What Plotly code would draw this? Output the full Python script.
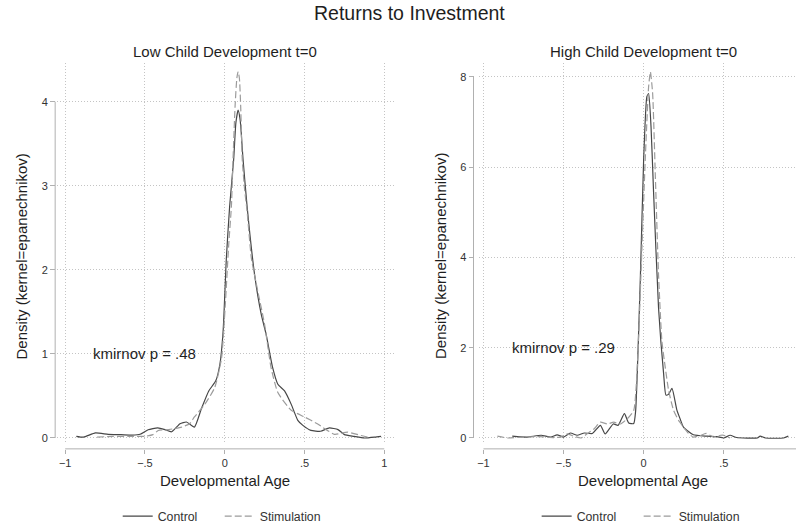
import plotly.graph_objects as go

# ---------------- data ----------------
series_names = ["Control", "Stimulation"]
panel_titles = ["Low Child Development t=0", "High Child Development t=0"]
main_title = "Returns to Investment"
x_title = "Developmental Age"
y_title = "Density (kernel=epanechnikov)"
ks_labels = ["kmirnov p = .48", "kmirnov p = .29"]
ks_x = [-0.5, -0.5]
ks_y = [1, 2]

# Low child development panel
ctrl_low_x = [-0.93, -0.885, -0.81, -0.73, -0.65, -0.58, -0.53, -0.48, -0.42, -0.375,
              -0.333, -0.28, -0.24, -0.19, -0.146, -0.10, -0.056, -0.03, -0.01, 0.01,
              0.031, 0.056, 0.07, 0.084, 0.097, 0.115, 0.14, 0.1875, 0.229, 0.26,
              0.30, 0.333, 0.375, 0.417, 0.458, 0.49, 0.54, 0.60, 0.656, 0.71,
              0.75, 0.81, 0.875, 0.94, 0.98]
ctrl_low_y = [0.02, 0.01, 0.06, 0.044, 0.04, 0.035, 0.044, 0.098, 0.12, 0.10,
              0.074, 0.17, 0.19, 0.13, 0.35, 0.56, 0.68, 0.88, 1.27, 2.13,
              2.76, 3.31, 3.75, 3.90, 3.78, 3.31, 2.76, 1.94, 1.47, 1.23,
              0.84, 0.64, 0.56, 0.40, 0.21, 0.15, 0.09, 0.08, 0.12, 0.10,
              0.04, 0.02, 0.0, 0.01, 0.02]
stim_low_x = [-0.80, -0.70, -0.60, -0.50, -0.45, -0.416, -0.35, -0.27, -0.22, -0.19,
              -0.125, -0.0625, -0.02, 0.004, 0.025, 0.042, 0.052, 0.065, 0.076, 0.084,
              0.092, 0.10, 0.11, 0.125, 0.14, 0.167, 0.208, 0.25, 0.29, 0.333,
              0.417, 0.50, 0.58, 0.6875, 0.77, 0.854, 0.90]
stim_low_y = [0.01, 0.02, 0.02, 0.02, 0.04, 0.09, 0.10, 0.13, 0.17, 0.25,
              0.40, 0.60, 0.95, 1.60, 2.30, 2.76, 3.31, 3.95, 4.28, 4.36,
              4.28, 3.95, 3.31, 2.95, 2.70, 2.14, 1.74, 1.35, 0.84, 0.54,
              0.33, 0.25, 0.17, 0.044, 0.07, 0.03, 0.01]

# High child development panel
ctrl_high_x = [-0.82, -0.73, -0.64, -0.58, -0.54, -0.50, -0.457, -0.415, -0.37, -0.32,
               -0.27, -0.24, -0.19, -0.16, -0.12, -0.093, -0.062, -0.05, -0.04, -0.02,
               0.0, 0.02, 0.031, 0.046, 0.062, 0.093, 0.125, 0.139, 0.156, 0.177,
               0.208, 0.228, 0.249, 0.31, 0.395, 0.457, 0.50, 0.54, 0.58, 0.71,
               0.727, 0.76, 0.873, 0.903]
ctrl_high_y = [0.04, 0.02, 0.06, 0.02, 0.07, 0.02, 0.11, 0.06, 0.11, 0.10,
               0.28, 0.09, 0.31, 0.28, 0.54, 0.33, 0.32, 0.60, 1.41, 3.61,
               6.17, 7.56, 7.63, 6.90, 5.44, 2.88, 1.41, 0.95, 0.97, 1.10,
               0.61, 0.42, 0.24, 0.07, 0.04, 0.03, 0.0, 0.06, 0.01, 0.0,
               0.04, 0.0, 0.0, 0.04]
stim_high_x = [-0.913, -0.85, -0.75, -0.65, -0.56, -0.52, -0.477, -0.43, -0.39, -0.35,
               -0.31, -0.27, -0.228, -0.187, -0.145, -0.104, -0.062, -0.037, -0.017, 0.01,
               0.031, 0.042, 0.056, 0.073, 0.093, 0.114, 0.135, 0.156, 0.187, 0.218,
               0.249, 0.28, 0.31, 0.35, 0.39, 0.436, 0.48, 0.50, 0.54]
stim_high_y = [0.04, 0.0, 0.02, 0.03, 0.01, 0.02, 0.09, 0.03, 0.0, 0.10,
               0.20, 0.35, 0.31, 0.35, 0.31, 0.42, 0.61, 1.78, 3.61, 6.17,
               7.78, 8.11, 7.64, 5.80, 3.61, 2.14, 1.56, 1.05, 0.61, 0.39,
               0.24, 0.10, 0.02, 0.05, 0.10, 0.02, 0.06, 0.06, 0.0]

# ticks
xticks_low = [-1, -0.5, 0, 0.5, 1]
xticklabels_low = ["\u22121", "\u2212.5", "0", ".5", "1"]
yticks_low = [0, 1, 2, 3, 4]
xticks_high = [-1, -0.5, 0, 0.5]
xticklabels_high = ["\u22121", "\u2212.5", "0", ".5"]
yticks_high = [0, 2, 4, 6, 8]

xrange_low = [-1.052, 1.061]
yrange_low = [-0.047, 4.4575]
xrange_high = [-1.029, 0.951]
yrange_high = [-0.088, 8.30]

# ---------------- layout helpers ----------------
W, H = 796, 531
FONT = "Liberation Sans, Arial, Helvetica, sans-serif"
CTRL_COLOR = "#474747"
STIM_COLOR = "#9c9c9c"
AXIS_COLOR = "#b0b0b0"
GRID_COLOR = "#c4c4c4"
TEXT_COLOR = "#1e1e1e"


def fx(p):
    """page pixel x -> paper fraction"""
    return p / W


def fy(p):
    """page pixel y -> paper fraction"""
    return 1 - p / H


# plot-region boxes in page pixels
LEFT_BOX = dict(x0=55, x1=393)
RIGHT_BOX = dict(x0=478, x1=W)
TOP_PX, BOT_PX = 64, 447
XAXIS_PX = 454
YAXIS_PX = [53.3, 472.7]


def data_to_px_x(v, box, rng):
    return box["x0"] + (v - rng[0]) / (rng[1] - rng[0]) * (box["x1"] - box["x0"])


def data_to_px_y(v, rng):
    return BOT_PX - (v - rng[0]) / (rng[1] - rng[0]) * (BOT_PX - TOP_PX)


fig = go.Figure()

ctrl_line = dict(color=CTRL_COLOR, width=1.2, shape="spline", smoothing=0.5)
stim_line = dict(color=STIM_COLOR, width=1.2, dash="7px,3px", shape="spline", smoothing=0.5)

fig.add_trace(go.Scatter(x=ctrl_low_x, y=ctrl_low_y, mode="lines", name=series_names[0],
                         line=ctrl_line, xaxis="x", yaxis="y", legend="legend"))
fig.add_trace(go.Scatter(x=stim_low_x, y=stim_low_y, mode="lines", name=series_names[1],
                         line=stim_line, xaxis="x", yaxis="y", legend="legend"))
fig.add_trace(go.Scatter(x=ctrl_high_x, y=ctrl_high_y, mode="lines", name=series_names[0],
                         line=ctrl_line, xaxis="x2", yaxis="y2", legend="legend2"))
fig.add_trace(go.Scatter(x=stim_high_x, y=stim_high_y, mode="lines", name=series_names[1],
                         line=stim_line, xaxis="x2", yaxis="y2", legend="legend2"))

tickfont = dict(family=FONT, size=11, color="#333333")
GRID_DASH = "1px,2px"


def xaxis_cfg(box, rng, vals, texts):
    return dict(domain=[fx(box["x0"]), min(1.0, fx(box["x1"]))], range=rng,
                anchor="free", position=fy(XAXIS_PX),
                tickmode="array", tickvals=vals, ticktext=texts,
                ticks="outside", ticklen=4, tickcolor=AXIS_COLOR, tickwidth=1,
                showline=False, zeroline=False, showgrid=True,
                gridcolor=GRID_COLOR, griddash=GRID_DASH, gridwidth=1,
                tickfont=tickfont, fixedrange=True)


def yaxis_cfg(rng, vals, pos_px):
    return dict(domain=[fy(BOT_PX), fy(TOP_PX)], range=rng, anchor="free",
                position=fx(pos_px),
                tickmode="array", tickvals=vals, ticktext=[str(v) for v in vals],
                ticks="outside", ticklen=5, tickcolor=AXIS_COLOR, tickwidth=1,
                showline=False, zeroline=False, showgrid=True,
                gridcolor=GRID_COLOR, griddash=GRID_DASH, gridwidth=1,
                tickfont=tickfont, fixedrange=True, tickangle=0)


def hline(xa, xb, ypx):
    return dict(type="line", xref="paper", yref="paper", x0=fx(xa), x1=min(1.0, fx(xb)),
                y0=fy(ypx), y1=fy(ypx), line=dict(color=AXIS_COLOR, width=1))


def vline(xpx, ya, yb):
    return dict(type="line", xref="paper", yref="paper", x0=fx(xpx), x1=fx(xpx),
                y0=fy(ya), y1=fy(yb), line=dict(color=AXIS_COLOR, width=1))


# Stata-style axis lines spanning the tick range
shapes = [
    hline(data_to_px_x(xticks_low[0], LEFT_BOX, xrange_low),
          data_to_px_x(xticks_low[-1], LEFT_BOX, xrange_low), XAXIS_PX),
    vline(YAXIS_PX[0], data_to_px_y(yticks_low[0], yrange_low),
          data_to_px_y(yticks_low[-1], yrange_low)),
    hline(data_to_px_x(xticks_high[0], RIGHT_BOX, xrange_high),
          data_to_px_x(xrange_high[1], RIGHT_BOX, xrange_high), XAXIS_PX),
    vline(YAXIS_PX[1], data_to_px_y(yticks_high[0], yrange_high),
          data_to_px_y(yticks_high[-1], yrange_high)),
]


def text_ann(text, xpx, ypx, size, angle=0):
    return dict(text=text, x=fx(xpx), y=fy(ypx), xref="paper", yref="paper",
                showarrow=False, xanchor="center", yanchor="middle", textangle=angle,
                font=dict(family=FONT, size=size, color=TEXT_COLOR))


annotations = [
    text_ann(main_title, 409, 13.5, 19.5),
    text_ann(panel_titles[0], 224, 52.5, 15),
    text_ann(panel_titles[1], 643, 52.5, 15),
    text_ann(x_title, 223.5, 486, 15),
    text_ann(x_title, 643, 486, 15),
    text_ann(y_title, 19.5, 259, 15, -90),
    text_ann(y_title, 439, 259, 15, -90),
    dict(text=ks_labels[0], x=ks_x[0], y=ks_y[0], xref="x", yref="y",
         showarrow=False, xanchor="center", yanchor="middle",
         font=dict(family=FONT, size=15, color=TEXT_COLOR)),
    dict(text=ks_labels[1], x=ks_x[1], y=ks_y[1], xref="x2", yref="y2",
         showarrow=False, xanchor="center", yanchor="middle",
         font=dict(family=FONT, size=15, color=TEXT_COLOR)),
]

legend_common = dict(orientation="h", xanchor="left", yanchor="middle", y=fy(522),
                     font=dict(family=FONT, size=12.3, color="#333333"),
                     bgcolor="rgba(0,0,0,0)", borderwidth=0, itemwidth=30,
                     entrywidth=57, entrywidthmode="pixels",
                     itemclick=False, itemdoubleclick=False)

fig.update_layout(
    width=W, height=H,
    margin=dict(l=0, r=0, t=0, b=0),
    paper_bgcolor="white", plot_bgcolor="white",
    font=dict(family=FONT, color=TEXT_COLOR),
    xaxis=xaxis_cfg(LEFT_BOX, xrange_low, xticks_low, xticklabels_low),
    yaxis=yaxis_cfg(yrange_low, yticks_low, YAXIS_PX[0]),
    xaxis2=xaxis_cfg(RIGHT_BOX, xrange_high, xticks_high, xticklabels_high),
    yaxis2=yaxis_cfg(yrange_high, yticks_high, YAXIS_PX[1]),
    shapes=shapes,
    annotations=annotations,
    legend=dict(legend_common, x=fx(116)),
    legend2=dict(legend_common, x=fx(536)),
    showlegend=True,
    hovermode=False,
)

# remove the default page margin so the 796x531 figure fills the window exactly
fig.write_html("out.html",
               config={"displayModeBar": False, "staticPlot": True},
               post_script="document.body.style.margin='0';"
                           "document.body.style.overflow='hidden';")
